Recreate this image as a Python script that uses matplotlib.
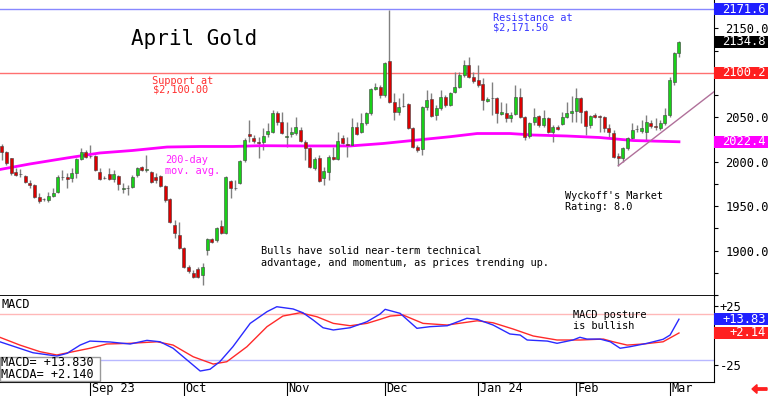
import matplotlib
matplotlib.use("Agg")
import matplotlib.pyplot as plt
import matplotlib.patches as mpatches
import matplotlib.transforms as mtrans
import matplotlib.ticker as mticker
import numpy as np

W, H = 768, 396
MONO = "DejaVu Sans Mono"
plt.rcParams["font.family"] = MONO

# ---- daily candles, Aug 2023 .. Mar 5 2024 -------------------------------
opens = [2017.6, 2010.9, 2004.2, 1988.4, 1986.2, 1983.9, 1976.0, 1973.8, 1960.3, 1958.5,
         1956.9, 1961.4, 1965.9, 1982.4, 1982.8, 1981.7, 1987.3, 2003.0, 2010.9, 2006.4,
         2006.4, 1988.4, 1981.2, 1986.2, 1980.5, 1983.9, 1969.8, 1970.0, 1971.5, 1985.0,
         1994.0, 1990.4, 1988.4, 1982.8, 1983.9, 1972.6, 1958.0, 1928.8, 1917.5, 1902.9,
         1881.5, 1874.8, 1879.3, 1872.5, 1900.7, 1913.0, 1911.9, 1927.7, 1920.0, 1978.2,
         1970.0, 1976.0, 2001.9, 2031.2, 2026.7, 2022.6, 2022.2, 2031.2, 2033.4, 2054.8,
         2044.6, 2027.5, 2031.2, 2032.3, 2035.7, 2022.2, 2015.4, 1992.9, 2004.2, 1981.7,
         1988.4, 2005.3, 2003.0, 2026.7, 2018.8, 2018.8, 2039.0, 2033.4, 2043.5, 2054.8,
         2081.8, 2084.0, 2075.0, 2113.3, 2067.2, 2055.9, 2062.3, 2064.9, 2037.9, 2016.5,
         2014.3, 2061.5, 2070.5, 2052.5, 2060.4, 2072.8, 2063.8, 2078.4, 2084.0, 2097.5,
         2108.8, 2095.3, 2091.9, 2087.4, 2068.3, 2071.2, 2071.7, 2053.7, 2054.8, 2049.2,
         2053.7, 2072.8, 2050.3, 2028.9, 2044.6, 2051.4, 2041.3, 2049.2, 2033.4, 2039.0,
         2042.4, 2050.3, 2054.8, 2057.0, 2071.7, 2057.0, 2041.3, 2052.5, 2050.5, 2050.3,
         2037.9, 2032.3, 2006.4, 2004.2, 2015.4, 2026.7, 2036.4, 2034.5, 2033.4, 2043.5,
         2040.2, 2037.9, 2043.5, 2052.5, 2089.6, 2122.3]
highs = [2019.9, 2011.5, 2004.5, 1992.9, 1991.8, 1985.0, 1979.4, 1974.9, 1964.8, 1959.2,
         1965.9, 1970.4, 1985.0, 1990.7, 1987.3, 1992.9, 2004.2, 2015.4, 2013.2, 2018.8,
         2007.5, 1992.9, 1983.9, 1992.9, 1990.7, 1985.0, 1976.0, 1973.8, 1985.0, 1994.0,
         1995.2, 2007.5, 1989.5, 1987.3, 1985.0, 1973.8, 1959.2, 1934.4, 1932.2, 1904.1,
         1883.8, 1878.2, 1881.5, 1886.0, 1914.2, 1914.2, 1926.5, 1934.4, 1983.9, 1979.4,
         1979.4, 2001.9, 2026.7, 2046.9, 2030.0, 2027.8, 2037.9, 2043.5, 2058.2, 2057.0,
         2055.9, 2044.6, 2039.0, 2050.3, 2039.0, 2024.4, 2016.5, 2005.3, 2007.5, 1994.0,
         2007.5, 2016.5, 2033.4, 2030.0, 2027.8, 2049.2, 2044.6, 2054.8, 2055.9, 2082.9,
         2088.5, 2086.3, 2112.1, 2170.6, 2077.3, 2071.7, 2077.3, 2066.0, 2039.0, 2018.8,
         2062.6, 2080.7, 2077.3, 2063.8, 2080.7, 2075.0, 2078.4, 2100.9, 2100.9, 2114.4,
         2117.8, 2100.9, 2108.8, 2094.2, 2072.8, 2089.6, 2072.8, 2067.2, 2066.0, 2055.9,
         2086.3, 2082.9, 2051.0, 2044.6, 2060.4, 2052.5, 2058.2, 2050.3, 2041.3, 2041.3,
         2055.9, 2067.2, 2073.9, 2082.9, 2072.8, 2058.2, 2052.5, 2054.8, 2052.5, 2051.4,
         2042.4, 2035.7, 2009.8, 2016.5, 2027.8, 2043.5, 2041.3, 2046.9, 2052.5, 2046.9,
         2049.2, 2046.9, 2060.4, 2095.3, 2123.4, 2136.0]
lows = [2001.9, 1996.3, 1985.0, 1983.9, 1982.8, 1976.0, 1970.4, 1959.2, 1953.5, 1955.8,
        1954.7, 1960.3, 1964.8, 1979.4, 1970.4, 1977.2, 1981.7, 2001.6, 2004.2, 2004.2,
        1989.5, 1979.4, 1980.5, 1979.4, 1977.2, 1968.2, 1964.8, 1962.5, 1970.4, 1982.8,
        1989.5, 1988.4, 1976.0, 1976.0, 1971.5, 1954.7, 1931.0, 1914.2, 1901.8, 1880.4,
        1874.8, 1869.2, 1869.2, 1861.3, 1895.0, 1908.5, 1909.7, 1919.0, 1919.0, 1959.2,
        1968.2, 1974.9, 1999.6, 2022.2, 2021.0, 2004.2, 2013.2, 2027.8, 2032.3, 2041.3,
        2031.2, 2016.5, 2027.8, 2030.0, 2022.2, 2001.9, 1992.9, 1990.7, 1977.2, 1973.8,
        1979.4, 2001.9, 2001.9, 2019.9, 2005.3, 2017.6, 2030.0, 2032.3, 2041.3, 2052.5,
        2080.7, 2071.7, 2072.8, 2066.0, 2046.9, 2052.5, 2061.5, 2037.0, 2015.4, 2010.9,
        2007.5, 2058.2, 2050.3, 2046.9, 2058.2, 2061.5, 2062.6, 2077.3, 2082.9, 2095.3,
        2094.2, 2088.5, 2084.0, 2058.2, 2067.2, 2052.5, 2043.5, 2052.5, 2044.6, 2044.6,
        2052.5, 2049.2, 2024.4, 2026.7, 2041.3, 2039.0, 2039.0, 2032.3, 2022.2, 2035.7,
        2041.3, 2049.2, 2044.6, 2044.6, 2043.5, 2030.0, 2037.9, 2049.2, 2033.4, 2033.4,
        2026.7, 2004.2, 1995.5, 1999.6, 2013.2, 2024.4, 2033.4, 2032.3, 2024.4, 2037.9,
        2035.7, 2035.7, 2041.3, 2050.3, 2086.3, 2117.8]
closes = [2010.9, 1998.5, 1987.3, 1985.0, 1985.8, 1977.2, 1973.8, 1960.3, 1955.8, 1957.6,
          1961.4, 1964.8, 1982.8, 1982.8, 1980.5, 1987.3, 2003.0, 2010.9, 2005.3, 2006.0,
          1990.7, 1980.5, 1981.7, 1980.5, 1986.2, 1974.9, 1970.4, 1970.6, 1982.8, 1993.0,
          1990.7, 1990.9, 1977.2, 1979.4, 1972.6, 1956.9, 1932.2, 1919.8, 1902.9, 1881.5,
          1877.0, 1870.3, 1870.3, 1881.5, 1913.0, 1909.7, 1925.4, 1919.8, 1982.8, 1970.4,
          1970.6, 2000.8, 2024.4, 2028.9, 2023.3, 2021.5, 2028.9, 2034.5, 2054.8, 2044.6,
          2032.3, 2028.1, 2033.4, 2039.0, 2023.3, 2015.4, 1994.0, 2003.0, 1978.3, 1989.5,
          2005.3, 2003.0, 2023.3, 2021.0, 2018.6, 2039.0, 2031.2, 2043.5, 2054.8, 2081.8,
          2084.0, 2075.0, 2111.0, 2067.2, 2055.9, 2061.5, 2062.8, 2037.9, 2016.5, 2013.2,
          2061.5, 2069.4, 2051.4, 2060.4, 2072.8, 2063.8, 2077.3, 2084.0, 2097.5, 2108.8,
          2095.3, 2090.8, 2086.3, 2069.4, 2070.5, 2071.7, 2054.8, 2055.9, 2049.2, 2052.5,
          2072.8, 2050.3, 2027.8, 2043.5, 2050.3, 2041.3, 2049.2, 2033.4, 2039.0, 2036.8,
          2050.3, 2054.8, 2057.0, 2071.7, 2055.9, 2040.2, 2051.4, 2050.3, 2050.1, 2037.9,
          2033.4, 2005.3, 2004.2, 2015.4, 2026.7, 2035.7, 2036.8, 2037.9, 2044.6, 2040.2,
          2039.0, 2043.5, 2052.5, 2091.9, 2122.3, 2134.8]

# 200-day moving average (bar index, price)
ma_idx = [-0.4, 6, 14, 21, 28, 35.4, 42.5, 49.5, 55.3, 64.5, 74.6, 81.7, 89, 96,
          101.8, 108.8, 113.8, 121, 128, 135.2, 145]
ma_val = [1991.2, 1997.4, 2004.2, 2009.8, 2012.6, 2016.5, 2017.1, 2017.1, 2018.0, 2017.7,
          2017.7, 2020.5, 2024.4, 2028.1, 2031.7, 2031.7, 2030.0, 2028.9, 2027.2, 2023.8,
          2022.4]

# MACD line and its average (bar index, value)
macd_idx = [-0.4, 6.7, 11.8, 14, 16.8, 18.9, 23.2, 27.5, 31.1, 33.9, 36.7, 39.7, 42.5,
            44.6, 46.7, 49.5, 53.2, 56.8, 58.9, 62.4, 64.5, 66.7, 68.8, 71, 74.6, 78.2,
            81, 82.1, 85.3, 88.9, 91.7, 95.4, 99.6, 101.8, 105.2, 108.8, 111, 112.5,
            116.8, 118.9, 122.3, 123.8, 125.3, 128.1, 130.3, 132.4, 134.5, 138.2, 141.6,
            143.1, 145]
macd_val = [-5.3, -14.6, -17.4, -15.1, -8.1, -4.7, -5.5, -7.2, -4.1, -5.3, -10.8, -20.8,
            -30.1, -28.6, -22.2, -9.5, 10.3, 20.2, 24.4, 22.5, 19.3, 13.1, 6.6, 4.7, 6.6,
            11.7, 18.2, 22.2, 18.8, 6.1, 7.5, 8.3, 14.6, 13.7, 8.9, 1.3, 0.4, -3.8, -4.7,
            -6.6, -3.8, -1.5, -3.0, -3.0, -5.3, -10.8, -9.5, -6.6, -3.2, 0.4, 13.83]
sig_idx = [-0.4, 3.9, 8.2, 11.8, 15.3, 18.9, 22.5, 27.5, 33.3, 36.7, 41, 45.3, 48.2,
           52.5, 56.8, 60.2, 63.9, 67.5, 71, 74.6, 78.2, 81, 83.2, 85.9, 90.2, 95.4,
           101.8, 105.2, 109.5, 113.8, 118.9, 123.8, 128.8, 130.9, 133.9, 137.3, 141.6, 145]
sig_val = [-1.5, -8.1, -13.7, -16.5, -13.7, -10.8, -7.2, -6.6, -5.3, -8.1, -18.0, -24.2,
           -22.2, -9.5, 7.5, 16.5, 19.3, 15.9, 10.3, 8.3, 10.3, 13.7, 16.5, 17.4, 10.3,
           8.9, 12.5, 10.8, 5.5, -0.4, -3.8, -3.8, -3.0, -5.3, -8.1, -7.2, -5.3, 2.14]

trend_idx = [132, 152.5]
trend_val = [1995.5, 2078.7]

resistance = 2171.5
support = 2100.0
macd_hi, macd_lo = 18.5, -20.5

month_labels = ["Sep 23", "Oct", "Nov", "Dec", "Jan 24", "Feb", "Mar"]
month_idx = [19, 39, 61, 82, 102, 123, 143]


def fx(p):
    return p / W


def fy(p):
    return 1 - p / H


fig = plt.figure(figsize=(W / 100, H / 100), dpi=100)
ax = fig.add_axes([0, fy(296), fx(714), 296 / H])
axm = fig.add_axes([0, fy(382), fx(714), 86 / H])

# ---- price panel ---------------------------------------------------------
x = np.arange(len(closes))
o, hi, lo, c = map(np.array, (opens, highs, lows, closes))
up = c >= o
ax.axhline(resistance, color="#8888ff", lw=1, zorder=1)
ax.axhline(support, color="#ff7070", lw=1, zorder=1)
ax.vlines(x, lo, hi, color="#808080", lw=1, zorder=2)
ax.plot(ma_idx, ma_val, color="#ff00ff", lw=2, zorder=2.5)
ax.bar(x, np.maximum(np.abs(c - o), 0.9), bottom=np.minimum(o, c), width=0.64,
       color=np.where(up, "#18d018", "#dc0000"), edgecolor="#404040", linewidth=0.4, zorder=3)
ax.plot(trend_idx, trend_val, color="#b0709a", lw=1, zorder=2.6)

ax.set_xlim(-0.36, 152.5)
ax.set_ylim(1848.9, 2181.9)
ax.set_xticks([])
ax.yaxis.tick_right()
ax.set_yticks(np.arange(1850, 2176, 25))
ax.yaxis.set_major_formatter(mticker.FuncFormatter(
    lambda v, p: f"{v:.1f}" if v % 50 == 0 and v not in (1850, 2100) else ""))
ax.tick_params(axis="y", direction="out", length=3, width=0.8, pad=5, labelsize=8.7)
ax.spines[["top", "left"]].set_visible(False)
ax.spines["bottom"].set_linewidth(1.3)

# ---- MACD panel ----------------------------------------------------------
axm.axhline(macd_hi, color="#ffb8b8", lw=1)
axm.axhline(macd_lo, color="#b8b8ff", lw=1)
axm.plot(sig_idx, sig_val, color="#ff2a2a", lw=1)
axm.plot(macd_idx, macd_val, color="#2a2aff", lw=1)
axm.set_xlim(-0.36, 152.5)
axm.set_ylim(-39.4, 33.5)
axm.yaxis.tick_right()
axm.set_yticks([-25, 0, 25])
axm.set_yticklabels(["-25", "", "+25"])
axm.tick_params(axis="y", direction="out", length=3, width=0.8, pad=1, labelsize=8.7)
axm.set_xticks(month_idx)
axm.set_xticklabels([])
axm.tick_params(axis="x", direction="out", length=10, width=0.8)
axm.spines[["top", "left"]].set_visible(False)
for m, lbl in zip(month_idx, month_labels):
    axm.text(m + 0.3, -0.075, lbl, transform=axm.get_xaxis_transform(),
             ha="left", va="center", fontsize=8.6)


def tag(a, value, text, bg, h):
    tr = mtrans.blended_transform_factory(a.transAxes, a.transData)
    a.add_patch(mpatches.Rectangle((1.0, value - h / 2), 54 / 714, h, transform=tr,
                                   facecolor=bg, edgecolor="none", clip_on=False, zorder=10))
    a.text(1 + 52 / 714, value, text, transform=tr, ha="right", va="center",
           color="white", fontsize=8.7, clip_on=False, zorder=11)


tag(ax, resistance, "2171.6", "#2020ff", 13.5)
tag(ax, closes[-1], f"{closes[-1]:.1f}", "#000000", 13.5)
tag(ax, 2100.2, "2100.2", "#ff2020", 13.5)
tag(ax, ma_val[-1], f"{ma_val[-1]:.1f}", "#ff00ff", 13.5)
tag(axm, macd_val[-1], f"+{macd_val[-1]:.2f}", "#2020ff", 10.2)
tag(axm, sig_val[-1], f"+{sig_val[-1]:.2f}", "#ff2020", 10.2)

# ---- text annotations ----------------------------------------------------
def lines(px, pys, texts, color="black", size=7.4):
    for py, t in zip(pys, texts):
        fig.text(fx(px), fy(py), t, color=color, fontsize=size, ha="left", va="center",
                 zorder=7)


fig.text(fx(131), fy(39), "April Gold", fontsize=15, ha="left", va="center")
lines(152.5, [80.5, 90], ["Support at", "$2,100.00"], color="#ff3030")
lines(493, [18, 28], ["Resistance at", "$2,171.50"], color="#3838ff")
lines(165, [160, 171], ["200-day", "mov. avg."], color="#ff20ff")
lines(565, [196, 207], ["Wyckoff's Market", "Rating: 8.0"])
lines(261, [251, 263], ["Bulls have solid near-term technical",
                        "advantage, and momentum, as prices trending up."])
lines(573, [315.5, 326], ["MACD posture", "is bullish"])
lines(1, [304], ["MACD"], size=8.6)

fig.add_artist(mpatches.Rectangle((0, fy(381)), fx(100), 24 / H, transform=fig.transFigure,
                                  facecolor="white", edgecolor="#999999", lw=1, zorder=5))
lines(1, [362.5, 375], [f"MACD= +{macd_val[-1]:.3f}", f"MACDA= +{sig_val[-1]:.3f}"], size=8.5)

fig.add_artist(mpatches.FancyArrow(fx(767), fy(389), -fx(10), 0, width=0.006,
                                   head_width=0.022, head_length=fx(5), color="#ff2020",
                                   transform=fig.transFigure, zorder=6))

fig.savefig("out.png", dpi=100, facecolor="white")
